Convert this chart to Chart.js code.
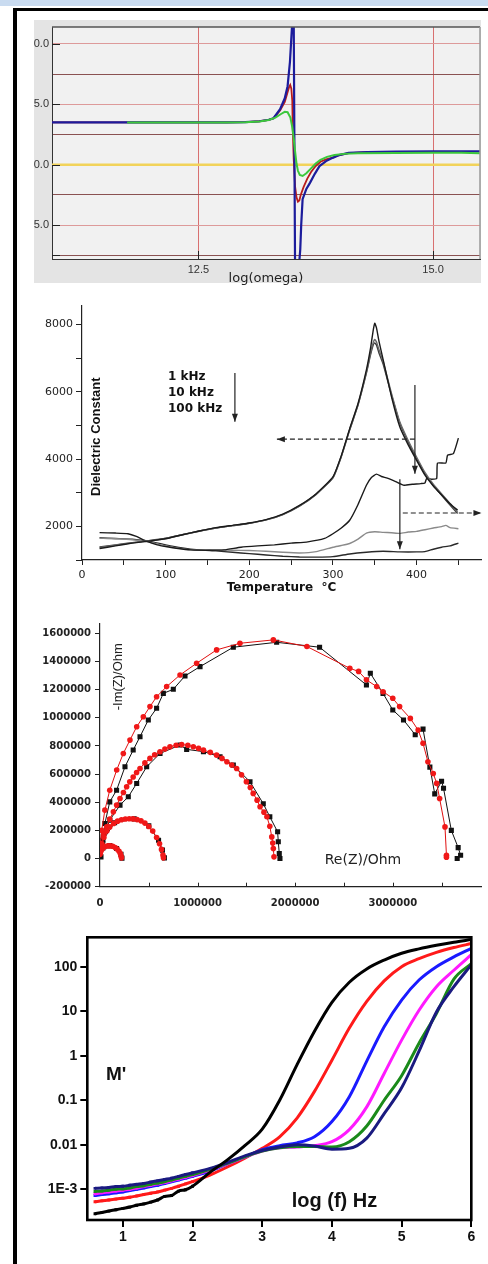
<!DOCTYPE html>
<html lang="en">
<head>
<meta charset="UTF-8">
<title>Dielectric plots</title>
<script src="https://cdn.jsdelivr.net/npm/chart.js@4.4.1/dist/chart.umd.min.js"></script>
<style>
    body { margin: 0; background: #fff; width: 488px; height: 1264px; position: relative; overflow: hidden; }
    .bar { position: absolute; }
    canvas { position: absolute; left: 20px; }
</style>
</head>
<body>
<div class="bar" style="left:0;top:0;width:488px;height:6px;background:#c9dbf0"></div>
<div class="bar" style="left:13px;top:8px;width:475px;height:3px;background:#000"></div>
<div class="bar" style="left:13px;top:8px;width:4px;height:1256px;background:#000"></div>

<canvas id="c1" width="468" height="275" style="top:14px"></canvas>
<canvas id="c2" width="468" height="310" style="top:295px"></canvas>
<canvas id="c3" width="468" height="305" style="top:612px"></canvas>
<canvas id="c4" width="468" height="339" style="top:925px"></canvas>

<script>
    // ---- panel 1: eps vs log(omega)
    const yTicks1 = [-7.5, -5, -2.5, 0, 2.5, 5, 7.5, 10];
    const yLabels1 = ['', '5.0', '', '0.0', '', '5.0', '', '0.0'];
    const xTicks1 = [12.5, 15.0];
    const blueX = [10.94, 12.8, 13.0, 13.15, 13.25, 13.3, 13.37, 13.42, 13.45, 13.475, 13.49, 13.505, 13.515, 13.53, 13.545, 13.565, 13.585, 13.595, 13.61, 13.65, 13.69, 13.74, 13.79, 13.86, 13.93, 14.0, 14.1, 14.3, 14.6, 15.0, 15.5];
    const blueY = [3.5, 3.5, 3.52, 3.6, 3.72, 3.85, 4.6, 5.5, 6.5, 8.5, 10.5, 12.5, 12.5, -9, -9, -9, -7, -5, -2.85, -2.0, -1.48, -0.75, -0.11, 0.3, 0.57, 0.8, 0.98, 1.05, 1.08, 1.1, 1.1];
    const redX = [10.94, 12.8, 13.0, 13.15, 13.25, 13.3, 13.37, 13.42, 13.45, 13.465, 13.478, 13.49, 13.5, 13.505, 13.515, 13.53, 13.545, 13.56, 13.575, 13.59, 13.62, 13.66, 13.7, 13.75, 13.8, 13.86, 13.93, 14.0, 14.1, 14.3];
    const redY = [3.5, 3.5, 3.52, 3.6, 3.72, 3.85, 4.5, 5.2, 6.0, 6.4, 6.6, 6.3, 5.3, 3.0, 0.5, -1.8, -2.7, -3.05, -2.95, -2.5, -1.85, -1.15, -0.6, -0.1, 0.25, 0.45, 0.6, 0.8, 0.97, 1.05];
    const greenX = [11.74, 12.8, 13.0, 13.15, 13.25, 13.32, 13.38, 13.42, 13.45, 13.48, 13.5, 13.515, 13.53, 13.545, 13.56, 13.58, 13.61, 13.65, 13.7, 13.75, 13.8, 13.87, 13.95, 14.05, 14.2, 14.6, 15.0, 15.3, 15.5];
    const greenY = [3.5, 3.5, 3.52, 3.58, 3.7, 3.9, 4.2, 4.38, 4.35, 3.9, 3.1, 2.2, 1.1, 0.1, -0.5, -0.85, -0.93, -0.7, -0.3, 0.1, 0.4, 0.65, 0.8, 0.9, 0.95, 0.98, 1.0, 1.0, 0.95];
    const zeroX = [10.94, 15.5];
    const zeroY = [0, 0];

    // ---- panel 2: dielectric constant vs temperature
    const tempABC = [21, 40, 60, 80, 100, 120, 140, 160, 180, 200, 220, 240, 260, 280, 300, 310, 320, 330, 340, 345, 348, 350, 352, 355, 360, 370, 380, 390, 400, 410, 420, 430, 440, 449];
    const epsA = [1340, 1420, 1500, 1560, 1630, 1750, 1860, 1960, 2030, 2100, 2200, 2360, 2620, 2970, 3470, 4100, 4900, 5650, 6650, 7300, 7800, 8030, 7900, 7500, 6950, 5850, 4950, 4420, 3960, 3520, 3200, 2930, 2670, 2480];
    const epsB = [1370, 1440, 1510, 1570, 1640, 1750, 1860, 1950, 2020, 2090, 2190, 2350, 2610, 2960, 3450, 4080, 4880, 5620, 6580, 7150, 7450, 7550, 7480, 7250, 6900, 5950, 5100, 4550, 4060, 3600, 3250, 2960, 2680, 2420];
    const epsC = [1390, 1450, 1515, 1575, 1645, 1750, 1855, 1950, 2020, 2090, 2190, 2350, 2600, 2950, 3440, 4070, 4860, 5600, 6550, 7100, 7380, 7450, 7390, 7150, 6820, 5900, 5060, 4500, 4010, 3560, 3210, 2920, 2630, 2380];
    const tempD = [21, 40, 55, 65, 77, 90, 100, 115, 130, 150, 170, 190, 210, 230, 250, 270, 290, 300, 310, 320, 330, 340, 346, 352, 358, 365, 375, 385, 395, 405, 410, 412, 418, 424, 425, 435, 437, 444, 450];
    const epsD = [1812, 1800, 1780, 1700, 1560, 1450, 1400, 1340, 1300, 1290, 1300, 1380, 1420, 1450, 1500, 1540, 1640, 1780, 1950, 2180, 2650, 3220, 3450, 3550, 3480, 3430, 3330, 3220, 3250, 3270, 3290, 3420, 3400, 3420, 3880, 3880, 4110, 4160, 4620];
    const tempE = [21, 40, 60, 80, 100, 120, 140, 160, 180, 200, 220, 240, 260, 280, 300, 310, 320, 330, 340, 350, 360, 370, 380, 390, 400, 410, 420, 430, 435, 440, 450];
    const epsE = [1650, 1630, 1600, 1530, 1420, 1330, 1290, 1300, 1290, 1280, 1260, 1230, 1210, 1250, 1380, 1430, 1490, 1620, 1800, 1840, 1820, 1810, 1790, 1830, 1850, 1900, 1950, 1990, 2030, 1960, 1930];
    const tempF = [21, 40, 60, 80, 100, 120, 140, 160, 180, 200, 220, 240, 260, 280, 300, 320, 340, 360, 380, 400, 410, 420, 430, 440, 450];
    const epsF = [1660, 1640, 1620, 1560, 1450, 1360, 1300, 1270, 1230, 1190, 1150, 1110, 1090, 1085, 1100, 1180, 1230, 1260, 1240, 1240, 1250, 1320, 1380, 1420, 1500];
    const xTicks2 = [0, 50, 100, 150, 200, 250, 300, 350, 400, 450];
    const yTicks2 = [1000, 2000, 3000, 4000, 5000, 6000, 7000, 8000];
    const freqLabels2 = ['1 kHz', '10 kHz', '100 kHz'];
    const arrows2 = [
        {from: [182.8, 6554], to: [182.8, 5104], dash: false},
        {from: [398, 4589], to: [233, 4589], dash: true},
        {from: [398, 6196], to: [398, 3560], dash: false},
        {from: [383.5, 2396], to: [477.5, 2396], dash: true},
        {from: [380, 3400], to: [380, 1320], dash: false}
    ];

    // ---- panel 3: Nyquist plot (ohm)
    const bigBlackRe = [10000, 27000, 50000, 100000, 170000, 256000, 340000, 410000, 495000, 580000, 649000, 751000, 871000, 1025000, 1366000, 1810000, 2250000, 2730000, 2770000, 2900000, 3000000, 3110000, 3230000, 3310000, 3380000, 3430000, 3500000, 3520000, 3600000, 3670000, 3695000, 3660000];
    const bigBlackIm = [12000, 107000, 249000, 403000, 486000, 652000, 771000, 866000, 985000, 1068000, 1174000, 1203000, 1298000, 1364000, 1502000, 1537000, 1502000, 1234000, 1317000, 1174000, 1056000, 985000, 880000, 920000, 650000, 460000, 550000, 500000, 200000, 78000, 24000, 0];
    const bigRedRe = [0, 17000, 50000, 100000, 171000, 239000, 307000, 376000, 444000, 512000, 580000, 683000, 820000, 990000, 1195000, 1434000, 1776000, 2120000, 2560000, 2650000, 2730000, 2835000, 2900000, 3000000, 3070000, 3180000, 3260000, 3310000, 3360000, 3415000, 3450000, 3480000, 3535000, 3550000, 3550000];
    const bigRedIm = [60000, 200000, 344000, 486000, 629000, 747000, 842000, 937000, 1008000, 1080000, 1150000, 1222000, 1305000, 1388000, 1483000, 1530000, 1554000, 1507000, 1352000, 1330000, 1270000, 1222000, 1186000, 1139000, 1080000, 996000, 913000, 819000, 688000, 605000, 534000, 427000, 225000, 24000, 10000];
    const midBlackRe = [34000, 100000, 205000, 290000, 376000, 478000, 615000, 820000, 888000, 1060000, 1230000, 1366000, 1537000, 1673000, 1740000, 1820000, 1827000, 1837000, 1844000];
    const midBlackIm = [154000, 273000, 380000, 439000, 534000, 652000, 747000, 807000, 776000, 760000, 724000, 664000, 546000, 390000, 297000, 190000, 119000, 36000, 0];
    const midRedRe = [0, 17000, 40000, 68000, 100000, 137000, 170000, 205000, 240000, 273000, 305000, 340000, 375000, 410000, 460000, 512000, 560000, 615000, 665000, 717000, 780000, 837000, 900000, 956000, 1010000, 1060000, 1130000, 1195000, 1250000, 1300000, 1350000, 1400000, 1450000, 1500000, 1540000, 1570000, 1610000, 1640000, 1680000, 1710000, 1740000, 1760000, 1770000, 1776000, 1783000];
    const midRedIm = [36000, 107000, 170000, 225000, 280000, 332000, 380000, 427000, 470000, 510000, 545000, 580000, 612000, 640000, 680000, 712000, 738000, 759000, 778000, 795000, 805000, 810000, 805000, 795000, 783000, 771000, 755000, 735000, 712000, 688000, 665000, 640000, 595000, 546000, 505000, 463000, 415000, 368000, 330000, 297000, 230000, 154000, 110000, 71000, 12000];
    const smallBlackRe = [30000, 150000, 350000, 500000, 600000, 640000, 660000];
    const smallBlackIm = [130000, 255000, 282000, 232000, 130000, 60000, 5000];
    const smallRedRe = [5000, 10000, 20000, 40000, 70000, 100000, 140000, 180000, 220000, 260000, 300000, 340000, 380000, 420000, 460000, 500000, 540000, 580000, 610000, 630000, 645000, 650000];
    const smallRedIm = [60000, 80000, 100000, 150000, 195000, 225000, 250000, 266000, 276000, 281000, 283000, 282000, 277000, 268000, 252000, 228000, 195000, 150000, 105000, 65000, 25000, 5000];
    const tinyBlackRe = [0, 30000, 100000, 170000, 215000, 225000];
    const tinyBlackIm = [40000, 75000, 92000, 72000, 30000, 3000];
    const tinyRedRe = [0, 8000, 20000, 35000, 55000, 80000, 105000, 130000, 155000, 175000, 195000, 208000, 216000, 220000];
    const tinyRedIm = [30000, 50000, 66000, 78000, 86000, 90000, 90000, 87000, 79000, 68000, 52000, 36000, 18000, 5000];
    const xTicks3 = [0, 1000000, 2000000, 3000000];
    const xMinor3 = [500000, 1000000, 1500000, 2000000, 2500000, 3000000, 3500000];
    const yTicks3 = [-200000, -100000, 0, 100000, 200000, 300000, 400000, 500000, 600000, 700000, 800000, 900000, 1000000, 1100000, 1200000, 1300000, 1400000, 1500000, 1600000];

    // ---- panel 4: M' vs log(f)
    const logF = [0.6, 0.7, 0.8, 0.9, 1.0, 1.1, 1.2, 1.3, 1.4, 1.5, 1.6, 1.7, 1.8, 1.9, 2.0, 2.25, 2.5, 2.75, 3.0, 3.25, 3.5, 3.75, 4.0, 4.25, 4.5, 4.75, 5.0, 5.25, 5.5, 5.75, 6.0];
    const mBlack = [2.82e-4, 3.02e-4, 3.24e-4, 3.47e-4, 3.72e-4, 3.98e-4, 4.37e-4, 4.68e-4, 5.13e-4, 5.75e-4, 6.92e-4, 7.24e-4, 9.12e-4, 9.77e-4, 1.17e-3, 2.40e-3, 4.57e-3, 9.55e-3, 0.0224, 0.10, 0.631, 3.55, 15.8, 44.7, 89, 141, 200, 251, 302, 355, 407];
    const mRed = [5.25e-4, 5.50e-4, 5.75e-4, 6.03e-4, 6.31e-4, 6.61e-4, 7.08e-4, 7.59e-4, 8.13e-4, 8.71e-4, 9.55e-4, 1.05e-3, 1.17e-3, 1.32e-3, 1.48e-3, 2.09e-3, 3.16e-3, 5.01e-3, 8.32e-3, 0.0151, 0.0398, 0.158, 0.794, 4.17, 16.6, 47.9, 100, 151, 209, 269, 331];
    const mBlue = [7.24e-4, 7.59e-4, 7.94e-4, 8.32e-4, 8.71e-4, 9.33e-4, 1.0e-3, 1.07e-3, 1.15e-3, 1.23e-3, 1.35e-3, 1.48e-3, 1.62e-3, 1.78e-3, 1.95e-3, 2.57e-3, 3.72e-3, 5.25e-3, 7.76e-3, 9.55e-3, 0.011, 0.0151, 0.0331, 0.12, 0.759, 4.47, 17.8, 50.1, 100, 166, 257];
    const mMagenta = [7.94e-4, 8.32e-4, 8.71e-4, 9.12e-4, 9.55e-4, 1.0e-3, 1.07e-3, 1.15e-3, 1.23e-3, 1.32e-3, 1.41e-3, 1.55e-3, 1.70e-3, 1.86e-3, 2.04e-3, 2.69e-3, 3.72e-3, 5.25e-3, 7.24e-3, 8.51e-3, 8.91e-3, 9.55e-3, 0.0117, 0.0219, 0.0708, 0.398, 2.24, 10.5, 35.5, 83.2, 186];
    const mGreen = [8.91e-4, 9.12e-4, 9.55e-4, 1.0e-3, 1.02e-3, 1.07e-3, 1.15e-3, 1.20e-3, 1.29e-3, 1.38e-3, 1.48e-3, 1.62e-3, 1.78e-3, 1.95e-3, 2.14e-3, 2.82e-3, 3.80e-3, 5.37e-3, 7.24e-3, 8.51e-3, 9.12e-3, 9.12e-3, 8.91e-3, 0.0117, 0.0263, 0.10, 0.355, 1.91, 8.91, 52.5, 117];
    const mNavy = [1.05e-3, 1.07e-3, 1.10e-3, 1.15e-3, 1.17e-3, 1.23e-3, 1.29e-3, 1.35e-3, 1.45e-3, 1.55e-3, 1.66e-3, 1.78e-3, 1.95e-3, 2.14e-3, 2.34e-3, 2.95e-3, 3.98e-3, 5.62e-3, 7.41e-3, 8.91e-3, 0.01, 9.33e-3, 7.94e-3, 8.32e-3, 0.0141, 0.0501, 0.19, 1.26, 9.55, 35.5, 110];
    const xTicks4 = [1, 2, 3, 4, 5, 6];
    const yTicks4 = [1e-3, 0.01, 0.1, 1, 10, 100];
    const yLabels4 = ['1E-3', '0.01', '0.1', '1', '10', '100'];

    Chart.defaults.font.family = 'Liberation Sans, Arial, sans-serif';
    Chart.defaults.color = '#222';
    Chart.defaults.animation = false;
    Chart.defaults.responsive = false;
    Chart.defaults.plugins.legend.display = false;
    Chart.defaults.plugins.tooltip.enabled = false;

    function pts(xs, ys) {
        return xs.map((x, i) => ({x: x, y: ys[i]}));
    }
    function setTicks(values) {
        return scale => { scale.ticks = values.map(v => ({value: v})); };
    }

    // free text drawn in canvas pixels
    const textPlugin = {
        id: 'texts',
        afterDraw(chart, args, opts) {
            const ctx = chart.ctx;
            (opts.items || []).forEach(t => {
                ctx.save();
                ctx.font = t.font;
                ctx.fillStyle = t.color || '#111';
                ctx.textAlign = t.align || 'left';
                ctx.textBaseline = 'middle';
                ctx.translate(t.x, t.y);
                if (t.rot) ctx.rotate(t.rot);
                ctx.fillText(t.text, 0, 0);
                ctx.restore();
            });
        }
    };

    // tick marks pointing into the plot
    const innerTicks = {
        id: 'innerTicks',
        afterDatasetsDraw(chart, args, opts) {
            const {ctx, chartArea: a, scales} = chart;
            ctx.save();
            ctx.strokeStyle = opts.color || '#222';
            ctx.lineWidth = 1;
            ctx.beginPath();
            (opts.x || []).forEach(v => {
                const px = Math.round(scales.x.getPixelForValue(v)) + 0.5;
                ctx.moveTo(px, a.bottom);
                ctx.lineTo(px, a.bottom - opts.len);
            });
            (opts.y || []).forEach(v => {
                const py = Math.round(scales.y.getPixelForValue(v)) + 0.5;
                ctx.moveTo(a.left, py);
                ctx.lineTo(a.left + opts.len, py);
            });
            ctx.stroke();
            ctx.restore();
        }
    };

    // ---------------- chart 1
    const panel1 = {
        id: 'panel1',
        beforeDraw(chart) {
            const {ctx, chartArea: a} = chart;
            ctx.fillStyle = '#e4e4e4';
            ctx.fillRect(14, 6, 447, 263);
            ctx.fillStyle = '#f1f1f1';
            ctx.fillRect(a.left, a.top, a.right - a.left, a.bottom - a.top);
        },
        afterDraw(chart) {
            const {ctx, chartArea: a} = chart;
            ctx.save();
            ctx.lineWidth = 1.5;
            ctx.strokeStyle = '#555';
            ctx.beginPath();
            ctx.moveTo(a.left, a.top);
            ctx.lineTo(a.right, a.top);
            ctx.stroke();
            ctx.strokeStyle = '#999';
            ctx.beginPath();
            ctx.moveTo(a.right, a.top);
            ctx.lineTo(a.right, a.bottom);
            ctx.stroke();
            ctx.restore();
        }
    };

    new Chart('c1', {
        type: 'line',
        data: {
            datasets: [
                {data: pts(greenX, greenY), borderColor: '#3cc83c', borderWidth: 2, order: 0},
                {data: pts(blueX, blueY), borderColor: '#1c1c9c', borderWidth: 2.2, order: 1},
                {data: pts(redX, redY), borderColor: '#b81c1c', borderWidth: 1.8, order: 2},
                {data: pts(zeroX, zeroY), borderColor: '#f2d35a', borderWidth: 2.5, order: 3}
            ]
        },
        options: {
            maintainAspectRatio: false,
            layout: {padding: {top: 13, right: 8, left: 0, bottom: 0}},
            elements: {point: {radius: 0}, line: {tension: 0}},
            scales: {
                x: {
                    type: 'linear', min: 10.94, max: 15.5,
                    afterFit: s => { s.height = 30; },
                    afterBuildTicks: setTicks(xTicks1),
                    ticks: {padding: 4, font: {size: 11}, color: '#333', callback: v => v.toFixed(1)},
                    grid: {color: '#d87070', drawTicks: false},
                    border: {color: '#333'},
                    title: {display: true, text: 'log(omega)', color: '#222',
                        font: {family: 'DejaVu Sans', size: 13}, padding: {top: 0, bottom: 3}}
                },
                y: {
                    type: 'linear', min: -7.8, max: 11.4,
                    afterFit: s => { s.width = 32; },
                    afterBuildTicks: setTicks(yTicks1),
                    ticks: {padding: 3, font: {size: 11}, color: '#333', callback: (v, i) => yLabels1[i]},
                    grid: {
                        drawTicks: false,
                        color: c => (c.tick && c.tick.value % 5 === 0) ? '#dd9a9a' : '#8a5252'
                    },
                    border: {color: '#333'}
                }
            },
            plugins: {innerTicks: {x: xTicks1, y: [10, 5, 0, -5, -7.5], len: 8, color: '#222'}}
        },
        plugins: [panel1, innerTicks]
    });

    // ---------------- chart 2
    const arrowPlugin = {
        id: 'arrows',
        afterDatasetsDraw(chart, args, opts) {
            const {ctx, scales: {x, y}} = chart;
            opts.items.forEach(a => {
                const x1 = x.getPixelForValue(a.from[0]), y1 = y.getPixelForValue(a.from[1]);
                const x2 = x.getPixelForValue(a.to[0]), y2 = y.getPixelForValue(a.to[1]);
                ctx.save();
                ctx.strokeStyle = '#222';
                ctx.fillStyle = '#222';
                ctx.lineWidth = 1.2;
                ctx.setLineDash(a.dash ? [5, 3] : []);
                ctx.beginPath();
                ctx.moveTo(x1, y1);
                ctx.lineTo(x2, y2);
                ctx.stroke();
                ctx.setLineDash([]);
                ctx.translate(x2, y2);
                ctx.rotate(Math.atan2(y2 - y1, x2 - x1));
                ctx.beginPath();
                ctx.moveTo(0, 0);
                ctx.lineTo(-8, -3);
                ctx.lineTo(-8, 3);
                ctx.closePath();
                ctx.fill();
                ctx.restore();
            });
        }
    };

    const line2 = (xs, ys, color, order) => ({
        data: pts(xs, ys), borderColor: color, borderWidth: 1.4, order: order
    });

    new Chart('c2', {
        type: 'line',
        data: {
            datasets: [
                line2(tempABC, epsA, '#1a1a1a', 0),
                line2(tempABC, epsB, '#6a6a6a', 1),
                line2(tempABC, epsC, '#3a3a3a', 2),
                line2(tempD, epsD, '#1a1a1a', 3),
                line2(tempE, epsE, '#8a8a8a', 4),
                line2(tempF, epsF, '#2a2a2a', 5)
            ]
        },
        options: {
            maintainAspectRatio: false,
            layout: {padding: {top: 11, right: 7, left: 0, bottom: 0}},
            elements: {point: {radius: 0}, line: {tension: 0.15}},
            scales: {
                x: {
                    type: 'linear', min: 0, max: 477,
                    afterFit: s => { s.height = 45; },
                    afterBuildTicks: setTicks(xTicks2),
                    ticks: {padding: 4, font: {family: 'DejaVu Sans', size: 11}, color: '#222',
                        callback: v => (v % 100 === 0 ? String(v) : '')},
                    grid: {drawOnChartArea: false, tickLength: 5, color: '#222'},
                    border: {color: '#222', width: 1.2},
                    title: {display: true, text: 'Temperature  \u00B0C', color: '#111',
                        font: {family: 'DejaVu Sans', size: 12, weight: 'bold'}, padding: {top: 0, bottom: 10}}
                },
                y: {
                    type: 'linear', min: 1000, max: 8545,
                    afterFit: s => { s.width = 62; },
                    afterBuildTicks: setTicks(yTicks2),
                    ticks: {padding: 3, font: {family: 'DejaVu Sans', size: 11}, color: '#222',
                        callback: v => (v % 2000 === 0 ? String(v) : '')},
                    grid: {drawOnChartArea: false, tickLength: 6, color: '#222'},
                    border: {color: '#222', width: 1.2}
                }
            },
            plugins: {
                arrows: {items: arrows2},
                texts: {items: [
                    {text: 'Dielectric Constant', x: 76.7, y: 141.7, rot: -Math.PI / 2, align: 'center',
                        font: 'bold 13px Liberation Sans'},
                    {text: freqLabels2[0], x: 148, y: 82.3, font: 'bold 12px DejaVu Sans'},
                    {text: freqLabels2[1], x: 148, y: 98.3, font: 'bold 12px DejaVu Sans'},
                    {text: freqLabels2[2], x: 148, y: 114, font: 'bold 12px DejaVu Sans'}
                ]}
            }
        },
        plugins: [arrowPlugin, textPlugin]
    });

    // ---------------- chart 3
    const blackSet = (re, im, order) => ({
        data: pts(re, im), showLine: true, borderColor: '#111', borderWidth: 1,
        pointStyle: 'rect', pointRadius: 3.6, pointBackgroundColor: '#111', pointBorderWidth: 0, order: order
    });
    const redSet = (re, im, order) => ({
        data: pts(re, im), showLine: true, borderColor: '#e01010', borderWidth: 1,
        pointStyle: 'circle', pointRadius: 2.8, pointBackgroundColor: '#f01818', pointBorderWidth: 0, order: order
    });

    new Chart('c3', {
        type: 'scatter',
        data: {
            datasets: [
                redSet(tinyRedRe, tinyRedIm, 0),
                redSet(smallRedRe, smallRedIm, 1),
                redSet(midRedRe, midRedIm, 2),
                redSet(bigRedRe, bigRedIm, 3),
                blackSet(tinyBlackRe, tinyBlackIm, 4),
                blackSet(smallBlackRe, smallBlackIm, 5),
                blackSet(midBlackRe, midBlackIm, 6),
                blackSet(bigBlackRe, bigBlackIm, 7)
            ]
        },
        options: {
            maintainAspectRatio: false,
            layout: {padding: {top: 11.3, right: 7, left: 0, bottom: 0}},
            scales: {
                x: {
                    type: 'linear', min: 0, max: 3904000,
                    afterFit: s => { s.height = 30.3; },
                    afterBuildTicks: setTicks(xTicks3),
                    ticks: {padding: 3, font: {family: 'DejaVu Sans', size: 10, weight: 'bold'}, color: '#222',
                        callback: v => String(v)},
                    grid: {display: false},
                    border: {color: '#222', width: 1.2}
                },
                y: {
                    type: 'linear', min: -200000, max: 1672000,
                    afterFit: s => { s.width = 80; },
                    afterBuildTicks: setTicks(yTicks3),
                    ticks: {padding: 4, font: {family: 'DejaVu Sans', size: 10, weight: 'bold'}, color: '#222',
                        callback: v => (v % 200000 === 0 ? String(v) : '')},
                    grid: {drawOnChartArea: false, tickLength: 5, color: '#222'},
                    border: {color: '#222', width: 1.2}
                }
            },
            plugins: {
                innerTicks: {x: xMinor3, len: 4, color: '#222'},
                texts: {items: [
                    {text: '-Im(Z)/Ohm', x: 98, y: 64.7, rot: -Math.PI / 2, align: 'center',
                        font: '13px Liberation Sans', color: '#222'},
                    {text: 'Re(Z)/Ohm', x: 343, y: 248, align: 'center', font: '14px DejaVu Sans', color: '#222'}
                ]}
            }
        },
        plugins: [innerTicks, textPlugin]
    });

    // ---------------- chart 4
    const frame4 = {
        id: 'frame4',
        afterDraw(chart) {
            const {ctx, chartArea: a} = chart;
            ctx.save();
            ctx.lineWidth = 2.6;
            ctx.strokeStyle = '#000';
            ctx.strokeRect(a.left, a.top, a.right - a.left, a.bottom - a.top);
            ctx.restore();
        }
    };
    const mSet = (ys, color, order) => ({
        data: pts(logF, ys), borderColor: color, backgroundColor: color, borderWidth: 3,
        pointStyle: 'rect', pointBorderWidth: 0,
        pointRadius: c => (c.raw && c.raw.x <= 2.0 ? 2 : 0),
        cubicInterpolationMode: 'monotone', order: order
    });

    new Chart('c4', {
        type: 'line',
        data: {
            datasets: [
                mSet(mBlack, '#000000', 0),
                mSet(mNavy, '#1a1a80', 1),
                mSet(mGreen, '#1a8a1a', 2),
                mSet(mMagenta, '#ff1aff', 3),
                mSet(mBlue, '#1a1aff', 4),
                mSet(mRed, '#ff1a1a', 5)
            ]
        },
        options: {
            maintainAspectRatio: false,
            layout: {padding: {top: 12.3, right: 16.7, left: 0, bottom: 0}},
            scales: {
                x: {
                    type: 'linear', min: 0.49, max: 6.0,
                    afterFit: s => { s.height = 44; },
                    afterBuildTicks: setTicks(xTicks4),
                    ticks: {padding: 2, font: {size: 14, weight: 'bold'}, color: '#111', callback: v => String(v)},
                    grid: {drawOnChartArea: false, tickLength: 7, lineWidth: 2, color: '#000'},
                    border: {display: false}
                },
                y: {
                    type: 'logarithmic', min: 2.04e-4, max: 457,
                    afterFit: s => { s.width = 67.3; },
                    afterBuildTicks: setTicks(yTicks4),
                    ticks: {padding: 3, font: {size: 14, weight: 'bold'}, color: '#111', callback: (v, i) => yLabels4[i]},
                    grid: {drawOnChartArea: false, tickLength: 7, lineWidth: 2, color: '#000'},
                    border: {display: false}
                }
            },
            plugins: {
                texts: {items: [
                    {text: "M'", x: 86, y: 150, font: 'bold 19px Liberation Sans', color: '#111'},
                    {text: 'log (f) Hz', x: 271.7, y: 276, font: 'bold 20px Liberation Sans', color: '#111'}
                ]}
            }
        },
        plugins: [frame4, textPlugin]
    });
</script>
</body>
</html>
